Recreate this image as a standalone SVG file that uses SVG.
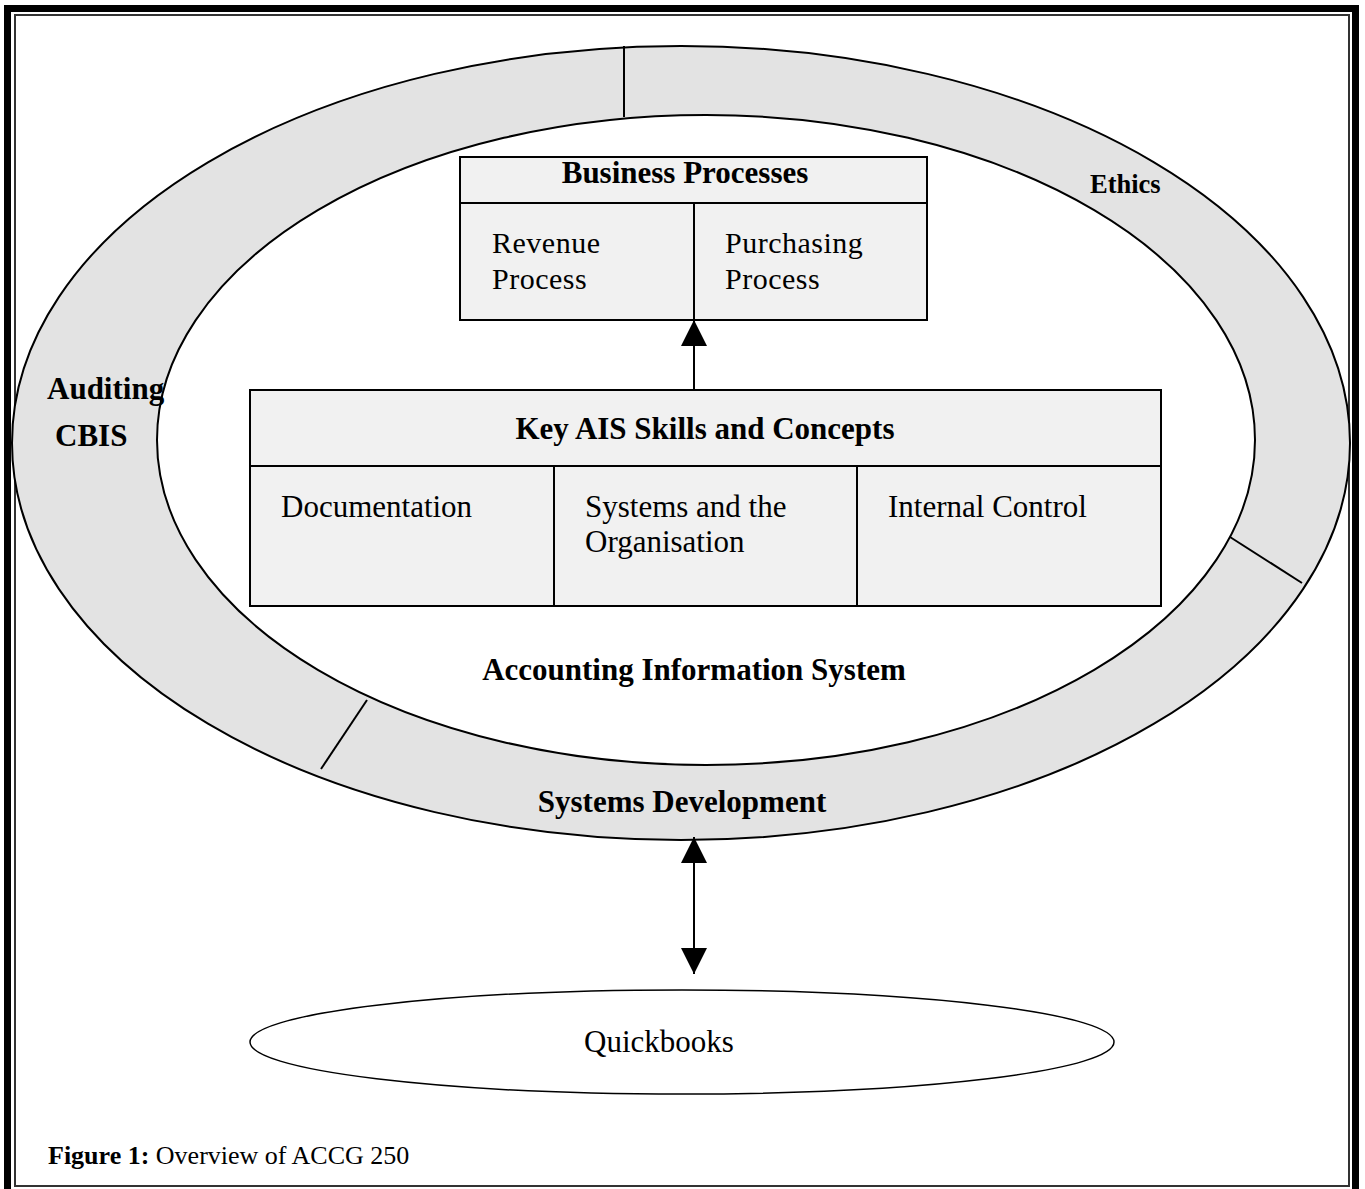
<svg xmlns="http://www.w3.org/2000/svg" width="1365" height="1189" viewBox="0 0 1365 1189">
<style>
.b{font-family:"Liberation Serif","Times New Roman",serif;font-weight:bold;fill:#000}
.r{font-family:"Liberation Serif","Times New Roman",serif;fill:#000}
.box{fill:#f1f1f1;stroke:#000;stroke-width:2}
.ln{stroke:#000;stroke-width:2;fill:none}
</style>
<defs>
<marker id="ah" markerWidth="26" markerHeight="26" refX="26" refY="13" viewBox="0 0 26 26" markerUnits="userSpaceOnUse" orient="auto-start-reverse">
<path d="M0,0 L26,13 L0,26 Z" fill="#000"/>
</marker>
</defs>
<rect width="1365" height="1189" fill="#fff"/>
<g id="frame">
<rect x="7.5" y="8.5" width="1348" height="1190" fill="none" stroke="#000" stroke-width="7"/>
<rect x="15" y="15" width="1334" height="1171" fill="none" stroke="#333" stroke-width="2"/>
</g>
<g id="ring">
<ellipse cx="681" cy="443" rx="669" ry="397" fill="#e3e3e3" stroke="#000" stroke-width="2"/>
<ellipse cx="706" cy="440" rx="549" ry="325" fill="#fff" stroke="#000" stroke-width="2"/>
<line class="ln" x1="624" y1="46" x2="624" y2="117"/>
<line class="ln" x1="1230" y1="537" x2="1302" y2="583"/>
<line class="ln" x1="367" y1="700" x2="321" y2="769"/>
<text class="b" x="1090" y="193" font-size="26.5">Ethics</text>
<text class="b" x="47" y="399" font-size="31">Auditing</text>
<text class="b" x="55" y="446" font-size="31">CBIS</text>
<text class="b" x="682" y="812" font-size="31" text-anchor="middle">Systems Development</text>
<text class="b" x="694" y="680" font-size="31" text-anchor="middle">Accounting Information System</text>
</g>
<g id="business-processes">
<rect class="box" x="460" y="157" width="467" height="163"/>
<line class="ln" x1="460" y1="203" x2="927" y2="203"/>
<line class="ln" x1="694" y1="203" x2="694" y2="320" stroke-width="1.5"/>
<text class="b" x="685" y="183" font-size="31" text-anchor="middle">Business Processes</text>
<text class="r" x="492" y="253" font-size="30" letter-spacing="0.5">Revenue</text>
<text class="r" x="492" y="289" font-size="30" letter-spacing="0.5">Process</text>
<text class="r" x="725" y="253" font-size="30" letter-spacing="0.5">Purchasing</text>
<text class="r" x="725" y="289" font-size="30" letter-spacing="0.5">Process</text>
</g>
<g id="key-ais">
<rect class="box" x="250" y="390" width="911" height="216"/>
<line class="ln" x1="250" y1="466" x2="1161" y2="466"/>
<line class="ln" x1="554" y1="466" x2="554" y2="606"/>
<line class="ln" x1="857" y1="466" x2="857" y2="606"/>
<text class="b" x="705" y="439" font-size="31" text-anchor="middle">Key AIS Skills and Concepts</text>
<text class="r" x="281" y="517" font-size="31">Documentation</text>
<text class="r" x="585" y="517" font-size="31">Systems and the</text>
<text class="r" x="585" y="552" font-size="31">Organisation</text>
<text class="r" x="888" y="517" font-size="31">Internal Control</text>
</g>
<g id="quickbooks">
<ellipse cx="682" cy="1042" rx="432" ry="52" fill="#fff" stroke="#000" stroke-width="1.5"/>
<text class="r" x="659" y="1052" font-size="31" text-anchor="middle">Quickbooks</text>
</g>
<g id="connectors">
<line class="ln" x1="694" y1="390" x2="694" y2="320" marker-end="url(#ah)"/>
<line class="ln" x1="694" y1="837" x2="694" y2="974" marker-start="url(#ah)" marker-end="url(#ah)"/>
</g>
<g id="caption">
<text x="48" y="1164" font-size="26"><tspan class="b">Figure 1:</tspan><tspan class="r"> Overview of ACCG 250</tspan></text>
</g>
</svg>
